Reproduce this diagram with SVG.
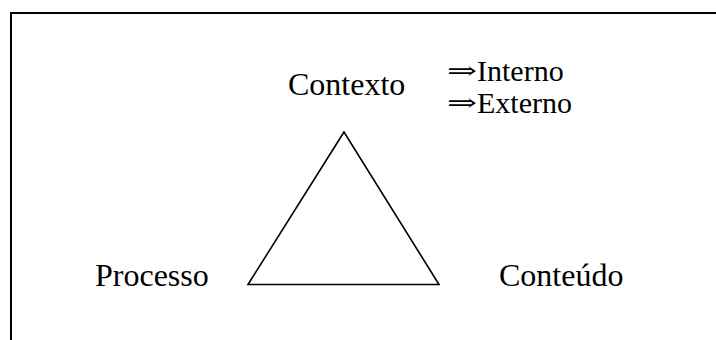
<svg xmlns="http://www.w3.org/2000/svg" width="716" height="340" viewBox="0 0 716 340">
<style>
.t{font-family:"Liberation Serif","Times New Roman",serif;font-size:32px;fill:#000}
.s{font-size:30px}
.a{font-family:"DejaVu Serif","Liberation Serif",serif;font-size:24px;fill:#000}
.frame{fill:none;stroke:#000;stroke-width:2}
.tri{fill:none;stroke:#000;stroke-width:1.6;stroke-linejoin:miter}
</style>
<rect width="716" height="340" fill="#fff"/>
<path class="frame" d="M11 340V13H716"/>
<g id="triangle"><polygon class="tri" points="344,132 248,284.5 439,284.5"/></g>
<g id="contexto"><text class="t" x="288" y="95">Contexto</text></g>
<g id="interno"><text class="a" x="447" y="79" textLength="30" lengthAdjust="spacingAndGlyphs">⇒</text><text class="t s" x="477" y="80.5">Interno</text></g>
<g id="externo"><text class="a" x="447" y="111" textLength="30" lengthAdjust="spacingAndGlyphs">⇒</text><text class="t s" x="477" y="112.5">Externo</text></g>
<g id="processo"><text class="t" x="95" y="286">Processo</text></g>
<g id="conteudo"><text class="t" x="499" y="286">Conteúdo</text></g>
<g id="connectors"/>
</svg>
